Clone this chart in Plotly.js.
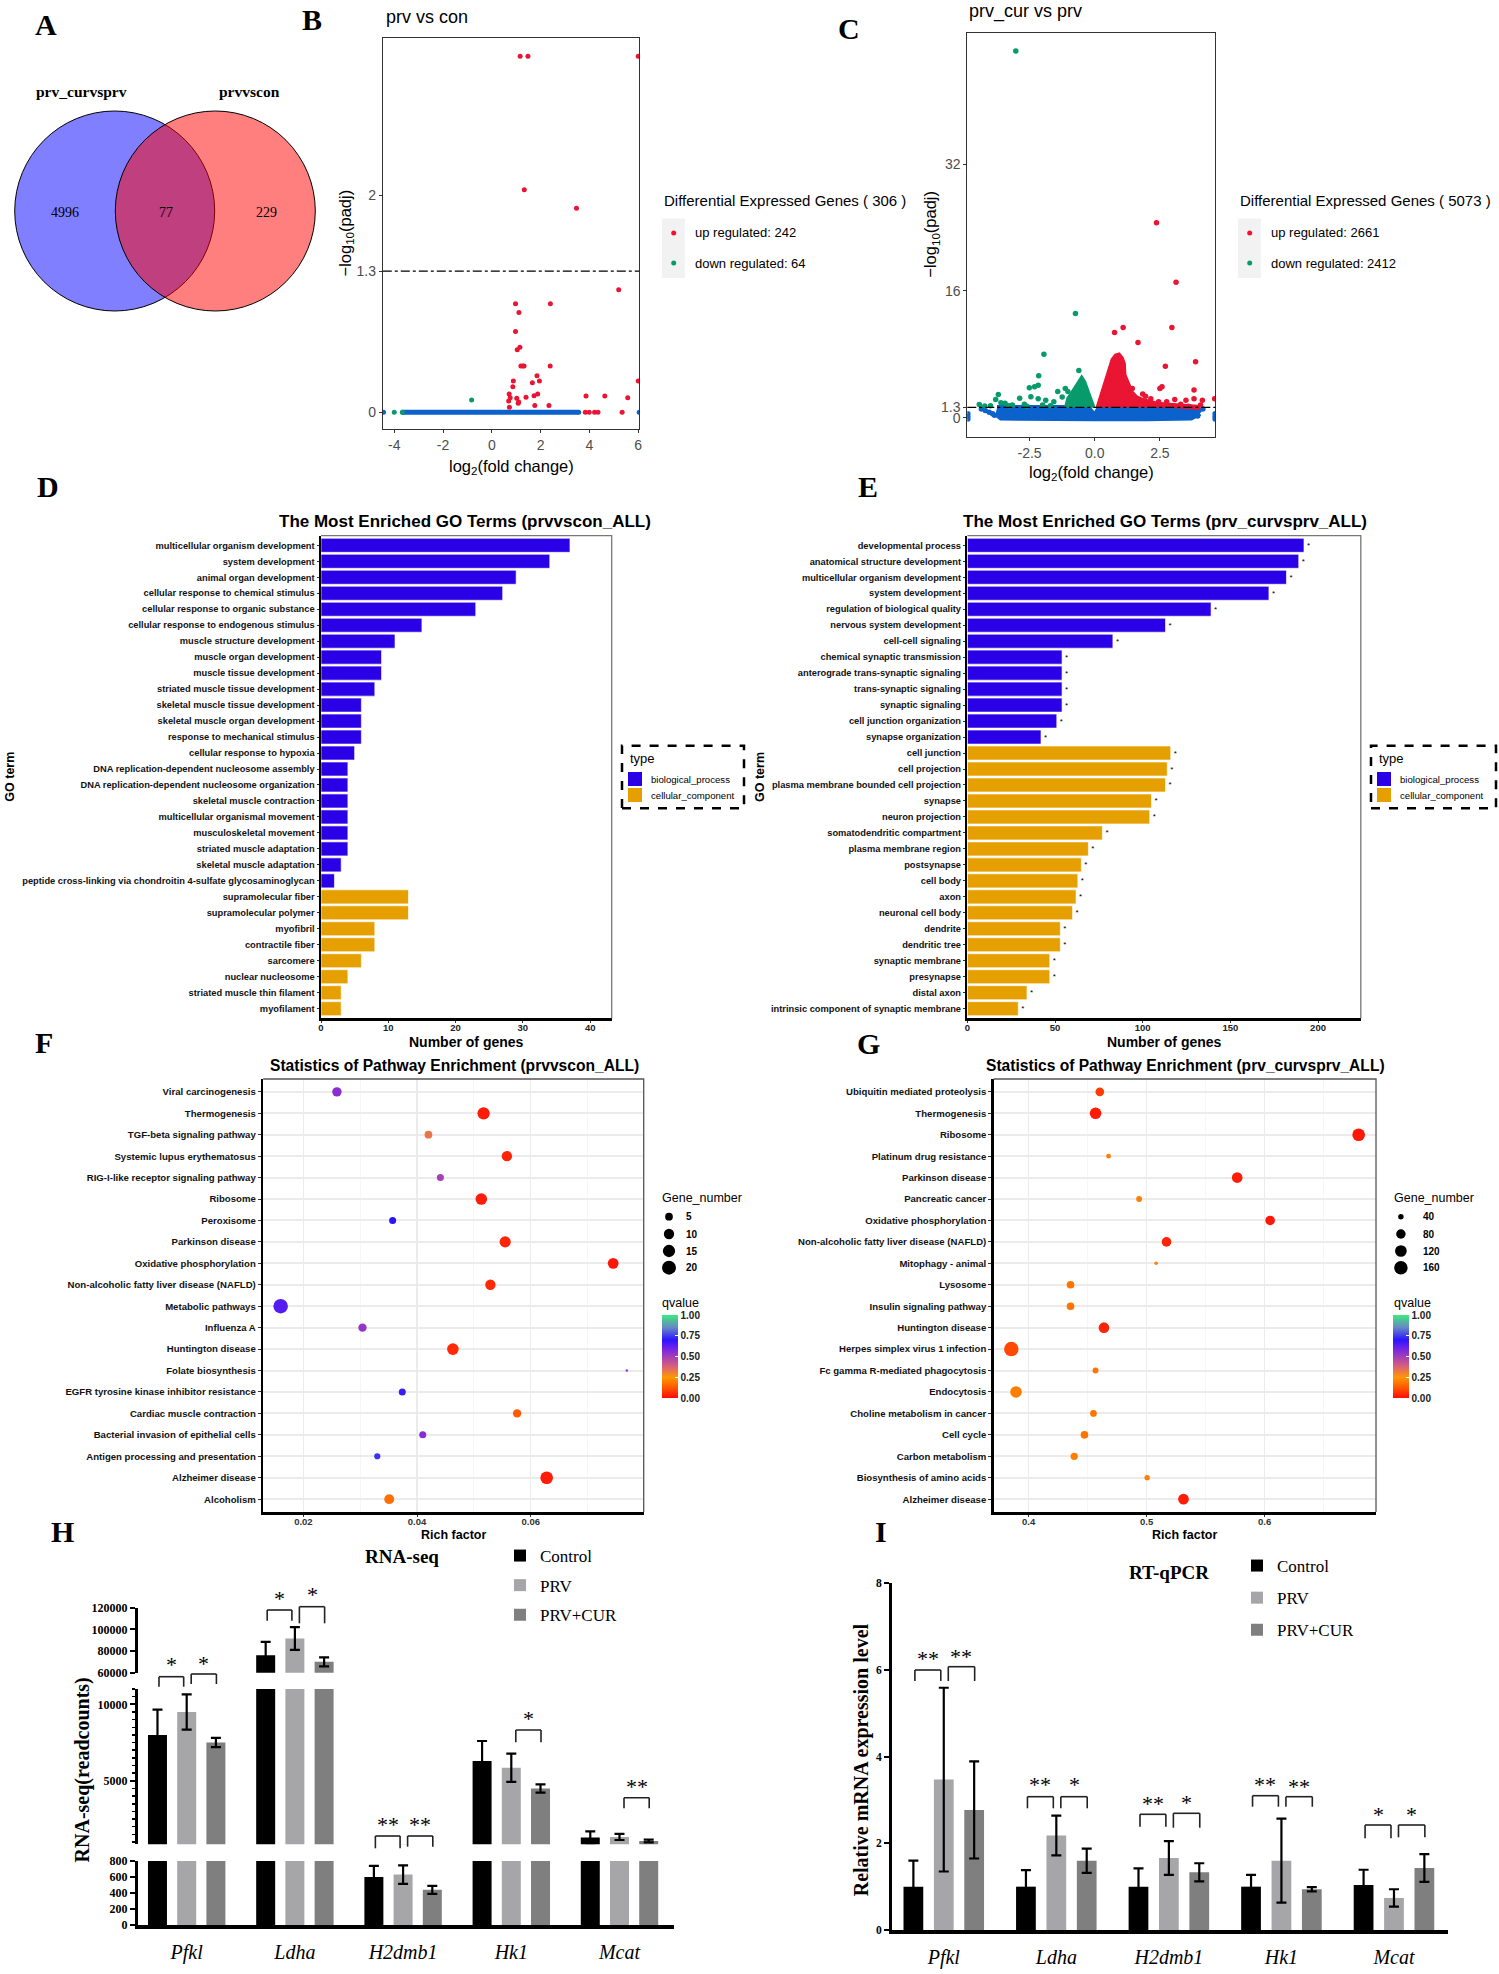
<!DOCTYPE html>
<html><head><meta charset="utf-8">
<script src="https://cdn.plot.ly/plotly-3.0.1.min.js"></script>
<style>html,body{margin:0;padding:0;background:#fff;}#fig{width:1499px;height:1974px;}</style>
</head><body><div id="fig"></div>
<script>
// ================= DATA =================
// A: Venn
const vennSetNames = ['prv_curvsprv', 'prvvscon'];
const vennRegionCounts = [4996, 77, 229];

// B: volcano prv vs con
const degCountsB = [242, 64];
const upB_x = [1.16, 1.48, 6.0, 1.33, 3.47, 5.2, 0.97, 2.40, 1.11, 0.97, 1.04, 1.15, 1.19, 1.32, 2.39, 1.85, 1.95, 1.66, 0.88, 0.86, 6.0, 0.71, 0.75, 0.69, 1.02, 1.10, 1.08, 1.40, 1.73, 1.88, 1.76, 2.34, 0.72, 3.86, 4.63, 5.57, 3.83, 3.99, 4.21, 4.35, 5.34, 1.27];
const upB_y = [3.28, 3.28, 3.28, 2.05, 1.88, 1.13, 1.0, 1.0, 0.92, 0.745, 0.577, 0.60, 0.426, 0.426, 0.426, 0.337, 0.288, 0.273, 0.288, 0.236, 0.288, 0.17, 0.135, 0.104, 0.13, 0.095, 0.083, 0.138, 0.153, 0.17, 0.064, 0.064, 0.046, 0.15, 0.15, 0.135, 0, 0, 0, 0, 0, 0.426];
const downB_x = [-0.83, -4.0, -3.67];
const downB_y = [0.113, 0, 0];
const nsB_x = [-4.44, 6.04];
const nsB_y = [0, 0];
const nsBandB_x = [-3.65, 3.56];
const nsBandB_y = [0, 0];

// C: volcano prv_cur vs prv
const degCountsC = [2661, 2412];
const nsAreaC_x = [-3.75, -3.0, -2.0, -1.0, -0.25, 0.0, 0.17, 1.0, 2.0, 3.0, 3.6, 3.85, 3.95, 3.7, 3.0, 2.0, 0.0, -2.0, -3.0, -3.6, -3.8];
const nsAreaC_y = [1.3, 1.3, 1.3, 1.3, 1.3, 0.2, 1.3, 1.3, 1.3, 1.3, 1.2, 0.9, 0.4, -0.05, -0.12, -0.12, -0.12, -0.12, -0.12, -0.05, 0.5];
const nsC_x = [-4.87, -4.87, -4.87, 4.62, 4.62, 4.62, -4.35, -4.2, -4.05, -3.92, -3.85, 4.0, 4.15, 3.95];
const nsC_y = [0.5, 0.15, -0.15, 0.5, 0.15, -0.15, 1.1, 0.9, 0.7, 0.5, 0.3, 0.9, 1.1, 0.2];
const downAreaC_x = [-1.08, -1.0, -0.85, -0.7, -0.58, -0.5, -0.42, -0.3, -0.18, -0.07];
const downAreaC_y = [1.3, 2.4, 3.1, 4.0, 4.6, 4.9, 4.5, 3.4, 2.3, 1.3];
const downC_x = [-3.03, -0.74, -1.95, -0.61, -2.15, -2.51, -2.31, -2.17, -3.70, -3.80, -2.88, -2.45, -1.42, -1.13, -1.03, -1.57, -1.88, -3.44, -3.16, -2.17, -4.43, -4.22, -4.0, -3.6, -2.7, -2.0, -1.7, -1.25, -3.3, -2.6];
const downC_y = [46.3, 13.15, 8.0, 5.97, 5.3, 3.78, 3.9, 4.1, 2.94, 2.31, 2.44, 2.65, 3.3, 3.7, 3.3, 2.0, 2.2, 1.81, 1.6, 2.4, 1.68, 1.47, 1.5, 1.9, 1.7, 1.6, 1.5, 2.6, 1.5, 1.45];
const upAreaC_x = [0.13, 0.3, 0.45, 0.6, 0.7, 0.82, 0.92, 1.02, 1.1, 1.12, 1.25, 1.4, 1.6, 1.9, 2.4, 3.0, 3.6, 4.05];
const upAreaC_y = [1.3, 3.0, 5.0, 6.2, 7.3, 7.8, 7.9, 7.5, 6.8, 5.4, 4.3, 3.2, 2.5, 2.1, 1.7, 1.5, 1.4, 1.3];
const upC_x = [2.37, 3.12, 1.09, 0.76, 2.96, 1.66, 3.87, 2.71, 1.44, 1.84, 1.95, 2.15, 2.5, 2.58, 2.45, 2.76, 3.07, 3.3, 3.5, 3.81, 3.81, 4.13, 4.6, 2.3, 2.9, 4.06, 3.6, 1.6, 2.0];
const upC_y = [24.6, 17.1, 11.4, 10.75, 11.4, 9.5, 7.06, 6.5, 3.7, 3.0, 2.7, 2.4, 3.7, 3.9, 2.0, 2.0, 2.3, 1.7, 2.2, 3.5, 2.4, 2.2, 2.4, 1.6, 1.5, 1.6, 1.45, 2.2, 1.9];
const padjCut = 1.3;

// D: GO prvvscon
const goD_terms = ['multicellular organism development','system development','animal organ development','cellular response to chemical stimulus','cellular response to organic substance','cellular response to endogenous stimulus','muscle structure development','muscle organ development','muscle tissue development','striated muscle tissue development','skeletal muscle tissue development','skeletal muscle organ development','response to mechanical stimulus','cellular response to hypoxia','DNA replication-dependent nucleosome assembly','DNA replication-dependent nucleosome organization','skeletal muscle contraction','multicellular organismal movement','musculoskeletal movement','striated muscle adaptation','skeletal muscle adaptation','peptide cross-linking via chondroitin 4-sulfate glycosaminoglycan','supramolecular fiber','supramolecular polymer','myofibril','contractile fiber','sarcomere','nuclear nucleosome','striated muscle thin filament','myofilament'];
const goD_counts = [37,34,29,27,23,15,11,9,9,8,6,6,6,5,4,4,4,4,4,4,3,2,13,13,8,8,6,4,3,3];
const goD_types = ['bp','bp','bp','bp','bp','bp','bp','bp','bp','bp','bp','bp','bp','bp','bp','bp','bp','bp','bp','bp','bp','bp','cc','cc','cc','cc','cc','cc','cc','cc'];
const goD_ticks = [0, 10, 20, 30, 40];

// E: GO prv_curvsprv
const goE_terms = ['developmental process','anatomical structure development','multicellular organism development','system development','regulation of biological quality','nervous system development','cell-cell signaling','chemical synaptic transmission','anterograde trans-synaptic signaling','trans-synaptic signaling','synaptic signaling','cell junction organization','synapse organization','cell junction','cell projection','plasma membrane bounded cell projection','synapse','neuron projection','somatodendritic compartment','plasma membrane region','postsynapse','cell body','axon','neuronal cell body','dendrite','dendritic tree','synaptic membrane','presynapse','distal axon','intrinsic component of synaptic membrane'];
const goE_counts = [192,189,182,172,139,113,83,54,54,54,54,51,42,116,114,113,105,104,77,69,65,63,62,60,53,53,47,47,34,29];
const goE_types = ['bp','bp','bp','bp','bp','bp','bp','bp','bp','bp','bp','bp','bp','cc','cc','cc','cc','cc','cc','cc','cc','cc','cc','cc','cc','cc','cc','cc','cc','cc'];
const goE_ticks = [0, 50, 100, 150, 200];
const goTypeNames = ['biological_process', 'cellular_component'];

// F: KEGG prvvscon
const pathF = ['Viral carcinogenesis','Thermogenesis','TGF-beta signaling pathway','Systemic lupus erythematosus','RIG-I-like receptor signaling pathway','Ribosome','Peroxisome','Parkinson disease','Oxidative phosphorylation','Non-alcoholic fatty liver disease (NAFLD)','Metabolic pathways','Influenza A','Huntington disease','Folate biosynthesis','EGFR tyrosine kinase inhibitor resistance','Cardiac muscle contraction','Bacterial invasion of epithelial cells','Antigen processing and presentation','Alzheimer disease','Alcoholism'];
const richF = [0.0259,0.0517,0.0420,0.0558,0.0441,0.0513,0.0357,0.0555,0.0745,0.0529,0.0160,0.0304,0.0463,0.0769,0.0374,0.0576,0.0410,0.0330,0.0628,0.0351];
const geneF = [8,15,5,10,4,13,4,12,11,10,22,6,13,1,4,6,4,3,16,9];
const qF = [0.55,0.03,0.33,0.04,0.49,0.03,0.70,0.04,0.02,0.05,0.64,0.53,0.05,0.52,0.67,0.13,0.56,0.74,0.03,0.17];
const sizeLegendF = [5, 10, 15, 20];

// G: KEGG prv_curvsprv
const pathG = ['Ubiquitin mediated proteolysis','Thermogenesis','Ribosome','Platinum drug resistance','Parkinson disease','Pancreatic cancer','Oxidative phosphorylation','Non-alcoholic fatty liver disease (NAFLD)','Mitophagy - animal','Lysosome','Insulin signaling pathway','Huntington disease','Herpes simplex virus 1 infection','Fc gamma R-mediated phagocytosis','Endocytosis','Choline metabolism in cancer','Cell cycle','Carbon metabolism','Biosynthesis of amino acids','Alzheimer disease'];
const richG = [0.4603,0.4567,0.6796,0.4677,0.5767,0.4936,0.6046,0.5168,0.5080,0.4355,0.4355,0.4638,0.3853,0.4567,0.3893,0.4549,0.4473,0.4386,0.5004,0.5312];
const geneG = [69,118,141,37,100,42,82,82,35,57,57,100,188,42,118,48,57,53,39,100];
const qG = [0.08,0.03,0.02,0.2,0.03,0.2,0.02,0.04,0.2,0.18,0.18,0.04,0.1,0.18,0.2,0.18,0.18,0.2,0.2,0.03];
const sizeLegendG = [40, 80, 120, 160];
const qTicks = [0, 0.25, 0.5, 0.75, 1];
const qTickText = ['0.00', '0.25', '0.50', '0.75', '1.00'];

// H: RNA-seq
const genes = ['Pfkl', 'Ldha', 'H2dmb1', 'Hk1', 'Mcat'];
const groupNames = ['Control', 'PRV', 'PRV+CUR'];
const rnaControl = [8000, 76000, 600, 6300, 1300];
const rnaPRV = [9500, 91500, 630, 5850, 1330];
const rnaCUR = [7500, 70000, 440, 4500, 1060];
const rnaControlErr = [1650, 12500, 140, 1300, 400];
const rnaPRVErr = [1150, 10500, 115, 920, 200];
const rnaCURErr = [300, 4200, 50, 270, 90];
const rnaTicksTop = [60000, 80000, 100000, 120000];
const rnaTicksMid = [5000, 10000];
const rnaTicksLow = [0, 200, 400, 600, 800];
const sigH = [[0,0,1,'*'],[0,1,2,'*'],[1,0,1,'*'],[1,1,2,'*'],[2,0,1,'**'],[2,1,2,'**'],[3,1,2,'*'],[4,1,2,'**']];

// I: RT-qPCR
const rtControl = [1.0, 1.0, 1.0, 1.0, 1.04];
const rtPRV = [3.47, 2.18, 1.66, 1.6, 0.74];
const rtCUR = [2.77, 1.6, 1.33, 0.94, 1.43];
const rtControlErr = [0.6, 0.38, 0.42, 0.27, 0.35];
const rtPRVErr = [2.12, 0.46, 0.39, 0.97, 0.2];
const rtCURErr = [1.12, 0.28, 0.21, 0.05, 0.32];
const rtTicks = [0, 2, 4, 6, 8];
const sigI = [[0,0,1,'**'],[0,1,2,'**'],[1,0,1,'**'],[1,1,2,'*'],[2,0,1,'**'],[2,1,2,'*'],[3,0,1,'**'],[3,1,2,'**'],[4,0,1,'*'],[4,1,2,'*']];

// ================= LAYOUT HELPERS =================
const W = 1499, H = 1974;
const PX = x => x / W, PY = y => 1 - y / H;
const dX = (a, b) => [a / W, b / W];
const dY = (top, bot) => [1 - bot / H, 1 - top / H];
const NARROW = '"Liberation Sans Narrow", "Arial Narrow", "Liberation Sans", Arial, sans-serif';
const SANS = '"Liberation Sans", Arial, sans-serif';
const SERIF = '"Liberation Serif", "Times New Roman", serif';

const RED = '#EA1433', GREEN = '#079B6B', BLUE = '#0C62CC';
const GO_BLUE = '#2A00E6', GO_ORANGE = '#E5A000';
const QSCALE = [[0,'#FF0A0A'],[0.12,'#FF5500'],[0.25,'#FF9800'],[0.38,'#D9607A'],[0.5,'#A23DBA'],[0.6,'#7022E8'],[0.7,'#2B14FF'],[0.85,'#6688C4'],[1,'#3CEB7C']];
const barColors = ['#000000', '#A6A6A9', '#7F7F7F'];

const ann = [];
function T(x, y, text, o = {}) {
  ann.push({xref:'paper', yref:'paper', x:PX(x), y:PY(y), text:String(text), showarrow:false,
    xanchor:o.xa || 'center', yanchor:o.ya || 'middle', textangle:o.angle || 0,
    font:{family:o.family || NARROW, size:o.size || 12, color:o.color || '#000', weight:o.weight || 'normal', style:o.style || 'normal'}});
}
const shapes = [];
function rectPx(x0, y0, x1, y1, o) {
  shapes.push({type:'rect', xref:'paper', yref:'paper', x0:PX(x0), x1:PX(x1), y0:PY(y1), y1:PY(y0),
    fillcolor:o.fill || 'rgba(0,0,0,0)', line:{color:o.line || 'rgba(0,0,0,0)', width:o.lw || 0, dash:o.dash || 'solid'}, layer:o.layer || 'above'});
}
function circPx(cx, cy, d, color, o = {}) {
  shapes.push({type:'circle', xref:'paper', yref:'paper', x0:PX(cx - d/2), x1:PX(cx + d/2), y0:PY(cy + d/2), y1:PY(cy - d/2),
    fillcolor:color, line:{color:o.line || 'rgba(0,0,0,0)', width:o.lw || 0}, layer:'above'});
}
function pathPx(pts, color, width) {
  const p = pts.map((q, i) => (i ? 'L' : 'M') + PX(q[0]).toFixed(5) + ',' + PY(q[1]).toFixed(5)).join(' ');
  shapes.push({type:'path', xref:'paper', yref:'paper', path:p, line:{color:color, width:width}, layer:'above'});
}
function sizeScale(n, lim, rng) { return rng[0] + (rng[1] - rng[0]) * Math.sqrt(Math.max(0, (n - lim[0]) / (lim[1] - lim[0]))); }
const limF = [Math.min(...geneF), Math.max(...geneF)], rngF = [2.5, 14.5];
const limG = [Math.min(...geneG), Math.max(...geneG)], rngG = [3.5, 14.5];

const data = [];
const layout = {
  width:W, height:H, margin:{l:0, r:0, t:0, b:0}, paper_bgcolor:'#fff', plot_bgcolor:'#fff',
  barmode:'group', bargap:0.19, bargroupgap:0.35, showlegend:true, hovermode:false,
  font:{family:NARROW, color:'#000'}
};

// ================= PANEL LETTERS =================
[['A',46,25],['B',312,19],['C',849,28],['D',48,487],['E',868,487],['F',44,1042],['G',868,1043],['H',62,1531],['I',881,1531]]
  .forEach(l => T(l[1], l[2], l[0], {family:SERIF, size:30, weight:'bold'}));

// ================= A: VENN =================
circPx(114.7, 211, 200, 'rgba(0,0,255,0.5)', {line:'#000', lw:1});
circPx(215.3, 211, 200, 'rgba(255,0,0,0.5)', {line:'#000', lw:1});
T(81.3, 91, vennSetNames[0], {family:SERIF, size:15.5, weight:'bold'});
T(249, 91, vennSetNames[1], {family:SERIF, size:15.5, weight:'bold'});
T(65.3, 212.3, vennRegionCounts[0], {family:SERIF, size:14});
T(165.5, 212.3, vennRegionCounts[1], {family:SERIF, size:14});
T(266.7, 212.3, vennRegionCounts[2], {family:SERIF, size:14});

// ================= B & C: VOLCANO =================
function volcanoAxes(xa, ya, xd, yd, xr, yr, xt, xtt, yt, ytt) {
  const base = {ticks:'outside', ticklen:3, tickcolor:'#333', tickwidth:1, showline:true, mirror:true, linecolor:'#333', linewidth:1,
    showgrid:false, zeroline:false, tickfont:{family:NARROW, size:14, color:'#4D4D4D'}};
  layout[xa] = Object.assign({}, base, {domain:xd, anchor:ya.replace('axis',''), range:xr, tickmode:'array', tickvals:xt, ticktext:xtt});
  layout[ya] = Object.assign({}, base, {domain:yd, anchor:xa.replace('axis',''), range:yr, tickmode:'array', tickvals:yt, ticktext:ytt});
}
volcanoAxes('xaxis2', 'yaxis2', dX(382.8, 639.2), dY(37.7, 429.3), [-4.47, 6.04], [-0.156, 3.45],
  [-4,-2,0,2,4,6], ['-4','-2','0','2','4','6'], [0, padjCut, 2], ['0','1.3','2']);
volcanoAxes('xaxis3', 'yaxis3', dX(967.3, 1215.4), dY(32.7, 436.7), [-4.89, 4.63], [-2.4, 48.6],
  [-2.5, 0, 2.5], ['-2.5','0.0','2.5'], [0, padjCut, 16, 32], ['0','1.3','16','32']);

const pt = (x, y, c, xa, ya, s) => ({type:'scatter', mode:'markers', x:x, y:y, xaxis:xa, yaxis:ya, showlegend:false, hoverinfo:'skip',
  marker:{color:c, size:s, line:{width:0}}});
// B
data.push({type:'scatter', mode:'lines', x:nsBandB_x, y:nsBandB_y, xaxis:'x2', yaxis:'y2', showlegend:false, hoverinfo:'skip', line:{color:BLUE, width:5}});
data.push(pt(nsBandB_x, nsBandB_y, BLUE, 'x2', 'y2', 5));
data.push(pt(nsB_x, nsB_y, BLUE, 'x2', 'y2', 5));
data.push(pt(downB_x, downB_y, GREEN, 'x2', 'y2', 5));
data.push(pt(upB_x, upB_y, RED, 'x2', 'y2', 5));
// C
const area = (x, y, c) => ({type:'scatter', mode:'lines', x:x, y:y, fill:'toself', fillcolor:c, line:{color:c, width:5}, xaxis:'x3', yaxis:'y3', showlegend:false, hoverinfo:'skip'});
data.push(area(nsAreaC_x, nsAreaC_y, BLUE));
data.push(pt(nsC_x, nsC_y, BLUE, 'x3', 'y3', 5.5));
data.push(area(downAreaC_x, downAreaC_y, GREEN));
data.push(pt(downC_x, downC_y, GREEN, 'x3', 'y3', 5.5));
data.push(area(upAreaC_x, upAreaC_y, RED));
data.push(pt(upC_x, upC_y, RED, 'x3', 'y3', 5.5));

[['x2 domain','y2'],['x3 domain','y3']].forEach(r => shapes.push({type:'line', xref:r[0], yref:r[1], x0:0, x1:1, y0:padjCut, y1:padjCut, line:{color:'#000', width:1.2, dash:'dashdot'}, layer:'above'}));

T(383.6, 17, 'prv vs con', {xa:'left', size:18});
T(967, 12, 'prv_cur vs prv', {xa:'left', size:18});
T(345, 233.5, '\u2212log<sub>10</sub>(padj)', {angle:-90, size:16.5});
T(931, 234.7, '\u2212log<sub>10</sub>(padj)', {angle:-90, size:16.5});
T(511.4, 467, 'log<sub>2</sub>(fold change)', {size:16.5});
T(1091.7, 473, 'log<sub>2</sub>(fold change)', {size:16.5});
function volcLegend(x, y, counts) {
  T(x, y, 'Differential Expressed Genes ( ' + (counts[0] + counts[1]) + ' )', {xa:'left', size:15});
  rectPx(x, y + 18.5, x + 23, y + 78, {fill:'#F2F2F2', layer:'below'});
  circPx(x + 11.7, y + 33, 5, RED);
  circPx(x + 11.7, y + 63, 5, GREEN);
  T(x + 30.8, y + 33, 'up regulated: ' + counts[0], {xa:'left', size:13});
  T(x + 30.8, y + 63, 'down regulated: ' + counts[1], {xa:'left', size:13});
}
volcLegend(662, 200, degCountsB);
volcLegend(1238, 200, degCountsC);

// ================= D & E: GO BARS =================
function goPanel(xa, ya, xd, yd, xr, xt, terms, counts, types, star) {
  const n = terms.length;
  layout[xa] = {domain:xd, anchor:ya.replace('axis',''), range:xr, tickmode:'array', tickvals:xt, ticks:'outside', ticklen:2, tickcolor:'#333',
    showline:true, linecolor:'#000', linewidth:2.5, showgrid:false, zeroline:false, ticklabelstandoff:-3,
    tickfont:{family:NARROW, size:9.5, weight:'bold', color:'#222'}};
  layout[ya] = {domain:yd, anchor:xa.replace('axis',''), type:'category', categoryorder:'array', categoryarray:terms, range:[n - 0.4, -0.6],
    tickmode:'linear', tick0:0, dtick:1, ticks:'outside', ticklen:2.5, tickcolor:'#333', showline:true, linecolor:'#000', linewidth:2,
    showgrid:false, zeroline:false, tickfont:{family:NARROW, size:9.3, weight:'bold', color:'#111'}};
  const tr = {type:'bar', orientation:'h', x:counts, y:terms, width:0.88, xaxis:xa.replace('axis',''), yaxis:ya.replace('axis',''),
    showlegend:false, hoverinfo:'skip', cliponaxis:false,
    marker:{color:types.map(t => t === 'bp' ? GO_BLUE : GO_ORANGE), line:{color:'rgba(255,255,255,0.65)', width:1}}};
  if (star) { tr.text = counts.map(() => '*'); tr.textposition = 'outside'; tr.textfont = {size:8, color:'#000', family:SANS}; }
  data.push(tr);
}
goPanel('xaxis4', 'yaxis4', dX(321, 611.7), dY(535.7, 1018.3), [0, 43.2], goD_ticks, goD_terms, goD_counts, goD_types, false);
goPanel('xaxis5', 'yaxis5', dX(967.4, 1360.8), dY(535.7, 1018.3), [0, 224.4], goE_ticks, goE_terms, goE_counts, goE_types, true);
pathPx([[321, 535.7], [611.7, 535.7], [611.7, 1018.3]], '#777', 1.3);
pathPx([[967.4, 535.7], [1360.8, 535.7], [1360.8, 1018.3]], '#777', 1.3);
T(465, 521, 'The Most Enriched GO Terms (prvvscon_ALL)', {size:17, weight:'bold'});
T(1164.8, 521, 'The Most Enriched GO Terms (prv_curvsprv_ALL)', {size:17, weight:'bold'});
T(9.7, 777, 'GO term', {angle:-90, size:12.5, weight:'bold', family:SANS});
T(760, 777, 'GO term', {angle:-90, size:12.5, weight:'bold', family:SANS});
T(466.4, 1042, 'Number of genes', {size:14, weight:'bold'});
T(1164, 1042, 'Number of genes', {size:14, weight:'bold'});
function typeLegend(x0, x1) {
  rectPx(x0, 745.7, x1, 808.3, {line:'#000', lw:2.5, dash:'dash'});
  T(x0 + 6, 758.3, 'type', {xa:'left', size:13});
  rectPx(x0 + 6, 772, x0 + 20, 786, {fill:GO_BLUE});
  rectPx(x0 + 6, 788, x0 + 20, 802, {fill:GO_ORANGE});
  T(x0 + 26.5, 779, goTypeNames[0], {xa:'left', size:9.6});
  T(x0 + 26.5, 795, goTypeNames[1], {xa:'left', size:9.6});
}
typeLegend(622, 744);
typeLegend(1371, 1496);

// ================= F & G: KEGG DOT PLOTS =================
function keggPanel(xa, ya, xd, yd, xr, dt, fmt, paths, rich, gene, q, lim, rng, cax) {
  const n = paths.length;
  layout[xa] = {domain:xd, anchor:ya.replace('axis',''), range:xr, tickmode:'linear', tick0:0, dtick:dt, tickformat:fmt,
    ticks:'outside', ticklen:2, tickcolor:'#333', showline:true, linecolor:'#000', linewidth:2.5, zeroline:false, ticklabelstandoff:-3,
    showgrid:true, gridcolor:'#EBEBEB', gridwidth:1.2,
    minor:{tickmode:'linear', tick0:0, dtick:dt / 2, showgrid:true, gridcolor:'#F4F4F4', gridwidth:0.8},
    tickfont:{family:NARROW, size:9.5, weight:'bold', color:'#333'}};
  layout[ya] = {domain:yd, anchor:xa.replace('axis',''), type:'category', categoryorder:'array', categoryarray:paths, range:[n - 0.4, -0.6],
    tickmode:'linear', tick0:0, dtick:1, ticks:'outside', ticklen:3, tickcolor:'#333', showline:true, linecolor:'#000', linewidth:2.5,
    showgrid:true, gridcolor:'#EBEBEB', gridwidth:2, zeroline:false, tickfont:{family:NARROW, size:9.6, weight:'bold', color:'#111'}};
  data.push({type:'scatter', mode:'markers', x:rich, y:paths, xaxis:xa.replace('axis',''), yaxis:ya.replace('axis',''), showlegend:false, hoverinfo:'skip',
    marker:{color:q, coloraxis:cax, size:gene.map(g => sizeScale(g, lim, rng)), line:{width:0}, opacity:1}});
}
keggPanel('xaxis6', 'yaxis6', dX(263.2, 643.7), dY(1079, 1512), [0.01293, 0.07987], 0.02, '.2f', pathF, richF, geneF, qF, limF, rngF, 'coloraxis');
keggPanel('xaxis7', 'yaxis7', dX(993.7, 1376), dY(1079, 1512), [0.3704, 0.6943], 0.1, '.1f', pathG, richG, geneG, qG, limG, rngG, 'coloraxis2');
pathPx([[263.2, 1079], [643.7, 1079], [643.7, 1512]], '#555', 1.3);
pathPx([[993.7, 1079], [1376, 1079], [1376, 1512]], '#555', 1.3);
function cbar(xLeft) {
  return {cmin:0, cmax:1, colorscale:QSCALE, showscale:true,
    colorbar:{x:PX(xLeft), xanchor:'left', xref:'paper', y:PY(1315), yanchor:'top', yref:'paper', len:83.3, lenmode:'pixels', thickness:15.5, thicknessmode:'pixels',
      xpad:0, ypad:0, outlinewidth:0, tickmode:'array', tickvals:qTicks, ticktext:qTickText, ticks:'inside', ticklen:3, tickcolor:'#fff', tickwidth:1,
      tickfont:{family:NARROW, size:10, weight:'bold', color:'#222'}}};
}
layout.coloraxis = cbar(661.6);
layout.coloraxis2 = cbar(1392.9);
T(454, 1065, 'Statistics of Pathway Enrichment (prvvscon_ALL)', {size:15.6, weight:'bold'});
T(1185, 1065, 'Statistics of Pathway Enrichment (prv_curvsprv_ALL)', {size:15.6, weight:'bold'});
T(453.5, 1535, 'Rich factor', {size:12.5, weight:'bold'});
T(1184.9, 1535, 'Rich factor', {size:12.5, weight:'bold'});
function sizeLegend(x, vals, lim, rng, dotX, labX) {
  T(x, 1197.7, 'Gene_number', {xa:'left', size:12.5});
  T(x, 1303, 'qvalue', {xa:'left', size:12.5});
  const ys = [1216.7, 1234, 1251, 1267.7];
  vals.forEach((v, i) => { circPx(dotX, ys[i], sizeScale(v, lim, rng), '#000'); T(labX, ys[i], v, {xa:'left', size:10, weight:'bold'}); });
}
sizeLegend(660.2, sizeLegendF, limF, rngF, 669, 683.5);
sizeLegend(1392.4, sizeLegendG, limG, rngG, 1400.9, 1420.7);

// ================= H: RNA-seq broken axis, I: RT-qPCR =================
const rnaVals = [rnaControl, rnaPRV, rnaCUR], rnaErrs = [rnaControlErr, rnaPRVErr, rnaCURErr];
const rtVals = [rtControl, rtPRV, rtCUR], rtErrs = [rtControlErr, rtPRVErr, rtCURErr];
['y8', 'y9', 'y10'].forEach((yax, si) => {
  for (let k = 0; k < 3; k++) data.push({type:'bar', name:groupNames[k], x:genes, y:rnaVals[k], xaxis:'x8', yaxis:yax,
    legend:'legend', legendgroup:'h' + k, showlegend:si === 0, hoverinfo:'skip', marker:{color:barColors[k], line:{width:0}},
    error_y:{type:'data', array:rnaErrs[k], visible:true, color:'#000', thickness:2.2, width:5}});
});
for (let k = 0; k < 3; k++) data.push({type:'bar', name:groupNames[k], x:genes, y:rtVals[k], xaxis:'x9', yaxis:'y11',
  legend:'legend2', legendgroup:'i' + k, showlegend:true, hoverinfo:'skip', marker:{color:barColors[k], line:{width:0}},
  error_y:{type:'data', array:rtErrs[k], visible:true, color:'#000', thickness:2.2, width:5}});

const barAxisX = (dom, anchor, rng) => ({domain:dom, anchor:anchor, type:'category', categoryorder:'array', categoryarray:genes, range:rng,
  showline:true, linecolor:'#000', linewidth:4, ticks:'', showgrid:false, zeroline:false, ticklabelstandoff:6,
  tickfont:{family:SERIF, size:20, style:'italic', color:'#000'}});
const barAxisY = (dom, anchor, rng, tv, fs) => ({domain:dom, anchor:anchor, range:rng, tickmode:'array', tickvals:tv, ticktext:tv.map(String),
  ticks:'outside', ticklen:5, tickwidth:2, tickcolor:'#000', showline:true, linecolor:'#000', linewidth:3, showgrid:false, zeroline:false,
  tickfont:{family:SERIF, size:fs, weight:'bold', color:'#000'}});
layout.xaxis8 = barAxisX(dX(138, 673.6), 'y10', [-0.45, 4.5]);
layout.yaxis8 = barAxisY(dY(1607.7, 1672.7), 'x8', [60000, 120000], rnaTicksTop, 12);
layout.yaxis9 = barAxisY(dY(1689, 1844.3), 'x8', [850, 11000], rnaTicksMid, 12);
layout.yaxis9.minor = {tickmode:'linear', tick0:0, dtick:500, ticks:'outside', ticklen:3, tickwidth:1.5, tickcolor:'#000'};
layout.yaxis10 = barAxisY(dY(1861, 1925), 'x8', [0, 800], rnaTicksLow, 12);
layout.xaxis9 = barAxisX(dX(892, 1448), 'y11', [-0.46, 4.48]);
layout.yaxis11 = barAxisY(dY(1583.3, 1930), 'x9', [0, 8], rtTicks, 11.5);

layout.legend = {x:PX(500), y:PY(1538), xanchor:'left', yanchor:'top', bgcolor:'rgba(0,0,0,0)', font:{family:SERIF, size:17, color:'#000'}, traceorder:'grouped', tracegroupgap:4.5};
layout.legend2 = {x:PX(1237), y:PY(1548), xanchor:'left', yanchor:'top', bgcolor:'rgba(0,0,0,0)', font:{family:SERIF, size:17, color:'#000'}, traceorder:'grouped', tracegroupgap:7};

const slot = (1 - layout.bargap) / 3;
const bracketYH = [[1676.7,1686.7,1661.7],[1674,1684,1660],[1610,1620.7,1595],[1606.7,1623.3,1591.7],[1836,1848.3,1821.7],[1836,1846.7,1821.7],[1730,1742.3,1715],[1797.7,1808.3,1783.3]];
const bracketYI = [[1670,1681,1655],[1666.7,1681,1653.3],[1796.7,1808.3,1781.7],[1796.7,1808.3,1781.7],[1814.3,1826.7,1800.7],[1813.3,1827.7,1799.3],[1795.7,1806.7,1781.7],[1796.7,1806.7,1783.3],[1825,1838.3,1811],[1825,1837.3,1811]];
function brackets(sig, ys, xref, pxPerUnit) {
  sig.forEach((s, i) => {
    const left = s[1] === 0;
    const xa = s[0] + (s[1] - 1) * slot + (left ? 1.5 : 4.5) / pxPerUnit;
    const xb = s[0] + (s[2] - 1) * slot + (left ? -3 : 0.5) / pxPerUnit;
    const top = PY(ys[i][0]), leg = PY(ys[i][1]);
    const ln = (x0, y0, x1, y1) => shapes.push({type:'line', xref:xref, yref:'paper', x0:x0, x1:x1, y0:y0, y1:y1, line:{color:'#222', width:1.6}, layer:'above'});
    ln(xa, leg, xa, top); ln(xa, top, xb, top); ln(xb, top, xb, leg);
    ann.push({xref:xref, yref:'paper', x:(xa + xb) / 2, y:PY(ys[i][2] + 3), text:s[3], showarrow:false, xanchor:'center', yanchor:'middle',
      font:{family:SERIF, size:22, color:'#000'}});
  });
}
brackets(sigH, bracketYH, 'x8', 108.2);
brackets(sigI, bracketYI, 'x9', 112.5);
T(402.3, 1556.7, 'RNA-seq', {family:SERIF, size:19, weight:'bold'});
T(1169, 1572.7, 'RT-qPCR', {family:SERIF, size:19, weight:'bold'});
T(82.4, 1770, 'RNA-seq(readcounts)', {family:SERIF, size:20, weight:'bold', angle:-90});
T(861.3, 1760, 'Relative mRNA expression level', {family:SERIF, size:20, weight:'bold', angle:-90});

layout.annotations = ann;
layout.shapes = shapes;
Plotly.newPlot('fig', data, layout, {displayModeBar:false, staticPlot:true});
</script></body></html>
